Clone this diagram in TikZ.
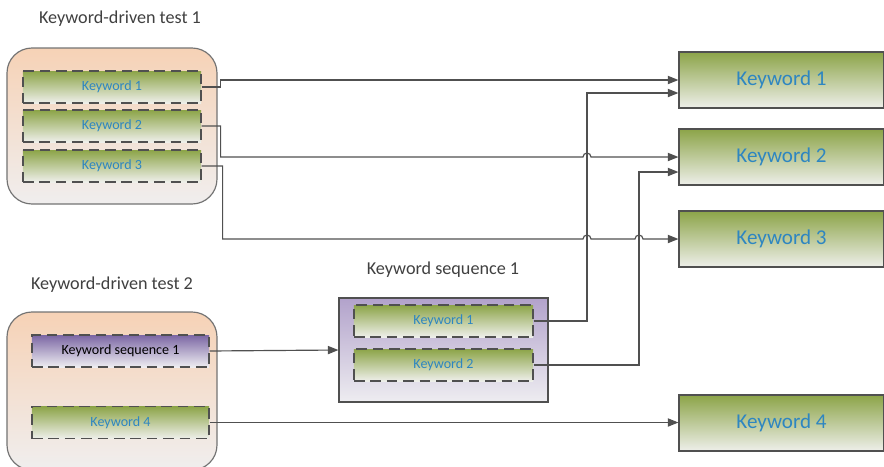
\documentclass[tikz,border=0pt]{standalone}
\usepackage{fontspec}
\setmainfont{Carlito}
\usetikzlibrary{calc}
\usetikzlibrary{positioning}
\usetikzlibrary{arrows.meta}

\definecolor{kwgreen}{HTML}{8CA448}
\definecolor{kwpale}{HTML}{EEEFEA}
\definecolor{kwblue}{HTML}{2E86C1}
\definecolor{peach}{HTML}{F6D2B6}
\definecolor{peachpale}{HTML}{F0EEEE}
\definecolor{lilac}{HTML}{B2A2CB}
\definecolor{lilacpale}{HTML}{EEEDF1}
\definecolor{violet}{HTML}{7B66A4}
\definecolor{linegray}{HTML}{505050}

\begin{document}
\begin{tikzpicture}[x=0.03cm,y=-0.03cm,
  testbox/.style={draw=linegray!80,line width=1pt,rounded corners=0.75cm,top color=peach,bottom color=peachpale,minimum width=6.3cm},
  seqbox/.style={draw=linegray,line width=1pt,top color=lilac,bottom color=lilacpale,minimum width=6.27cm,minimum height=3.12cm},
  kwslot/.style={draw=linegray,line width=1pt,dash pattern=on 9pt off 5pt,top color=kwgreen,bottom color=kwpale,minimum height=0.96cm,text=kwblue,font=\fontsize{12}{14}\selectfont},
  seqslot/.style={kwslot,top color=violet,bottom color=lilacpale,text=black},
  kwbox/.style={draw=linegray,line width=1pt,top color=kwgreen,bottom color=kwpale,minimum width=6.15cm,minimum height=1.68cm,text=kwblue,font=\fontsize{18}{21}\selectfont},
  heading/.style={text=black!75,font=\fontsize{15.5}{18}\selectfont},
  link/.style={draw=linegray,line width=1pt,-{Triangle[length=9pt,width=7pt]}}]
\useasboundingbox (0,0) rectangle (884,466);

% keyword-driven test 1
\node[heading] (h1) at (120,19) {Keyword-driven test 1};
\node[testbox,minimum height=4.68cm] (test1) at (112,126) {};
\node[kwslot,minimum width=5.34cm] (a1) at (112,87) {Keyword 1};
\node[kwslot,minimum width=5.34cm] (a2) at (112,126) {Keyword 2};
\node[kwslot,minimum width=5.34cm] (a3) at (112,166) {Keyword 3};

% keyword-driven test 2
\node[heading] (h2) at (112,285) {Keyword-driven test 2};
\node[testbox,minimum height=4.74cm] (test2) at (112,391) {};
\node[seqslot,minimum width=5.31cm] (c1) at (120.5,351) {Keyword sequence 1};
\node[kwslot,minimum width=5.31cm] (c2) at (120.5,422.5) {Keyword 4};

% keyword sequence 1
\node[heading] (h3) at (443,270) {Keyword sequence 1};
\node[seqbox] (seq) at (443.5,350) {};
\node[kwslot,minimum width=5.37cm] (b1) at (443.5,321) {Keyword 1};
\node[kwslot,minimum width=5.37cm] (b2) at (443.5,365) {Keyword 2};

% keywords
\node[kwbox] (t1) at (781.5,80) {Keyword 1};
\node[kwbox] (t2) at (781.5,157) {Keyword 2};
\node[kwbox] (t3) at (781.5,239) {Keyword 3};
\node[kwbox] (t4) at (781.5,423) {Keyword 4};

\coordinate (v1) at (587,0);
\coordinate (v2) at (639,0);
\coordinate (t1in) at ($(t1.west)+(0,13)$);
\coordinate (t2in) at ($(t2.west)+(0,15)$);

\draw[link] (a1.east) -- ++(19,0) |- (t1.west);
\draw[link] (a2.east) -- ++(19,0) |- ($(v1 |- t2.west)+(-4,0)$)
  arc[start angle=180,end angle=0,radius=0.12cm] -- (t2.west);
\draw[link] (a3.east) -- ++(21,0) |- ($(v1 |- t3.west)+(-4,0)$)
  arc[start angle=180,end angle=0,radius=0.12cm] -- ($(v2 |- t3.west)+(-4,0)$)
  arc[start angle=180,end angle=0,radius=0.12cm] -- (t3.west);
\draw[link] (b1.east) -| (v1 |- t1in) -- (t1in);
\draw[link] (b2.east) -| (v2 |- t2in) -- (t2in);
\draw[link] (c1.east) -- (seq.west);
\draw[link] (c2.east) -- (c2.east -| t4.west);
\end{tikzpicture}
\end{document}
